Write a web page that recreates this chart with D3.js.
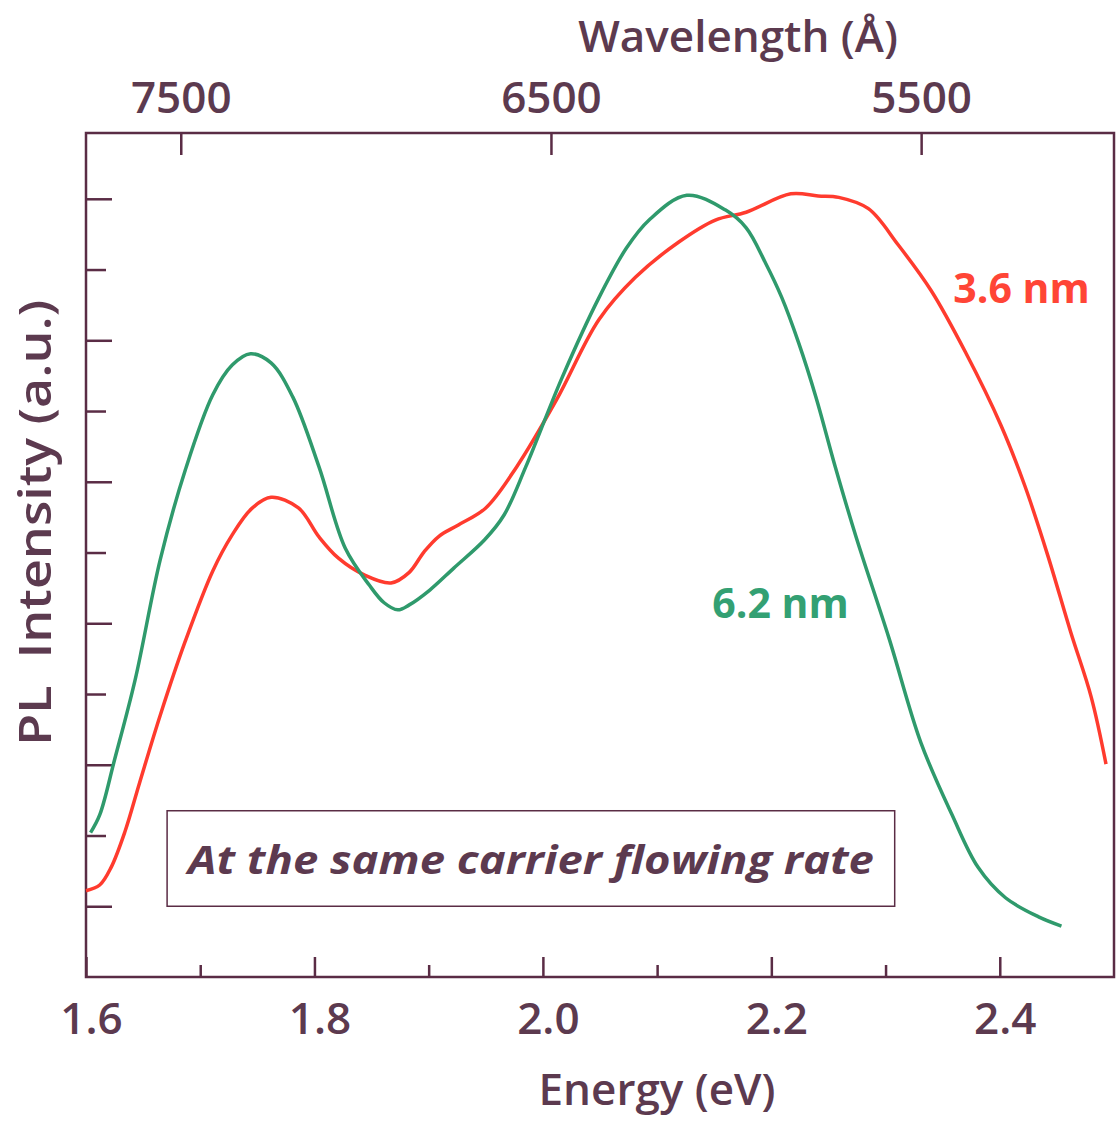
<!DOCTYPE html>
<html>
<head>
<meta charset="utf-8">
<script src="https://cdn.jsdelivr.net/npm/d3@7"></script>
<style>
  body { margin: 0; background: #fff; }
  text { font-family: "Open Sans", sans-serif; }
</style>
</head>
<body>
<div id="chart"></div>
<script>
// energy (eV) and PL intensity (a.u.)
let energy36 = [1.600, 1.612, 1.622, 1.634, 1.647, 1.665, 1.687, 1.711, 1.728, 1.745, 1.762, 1.786, 1.804, 1.821, 1.844, 1.867, 1.883, 1.896, 1.909, 1.926, 1.950, 1.977, 2.012, 2.049, 2.081, 2.119, 2.151, 2.178, 2.217, 2.241, 2.259, 2.285, 2.311, 2.340, 2.370, 2.401, 2.422, 2.442, 2.462, 2.480, 2.493];
let pl36 = [1.22, 1.30, 1.55, 2.05, 2.75, 3.70, 4.75, 5.74, 6.25, 6.62, 6.78, 6.63, 6.22, 5.92, 5.68, 5.57, 5.72, 6.01, 6.23, 6.39, 6.63, 7.21, 8.16, 9.29, 9.89, 10.39, 10.70, 10.81, 11.07, 11.04, 11.02, 10.86, 10.35, 9.70, 8.83, 7.80, 6.94, 5.96, 4.88, 3.96, 3.01];

let energy62 = [1.604, 1.612, 1.625, 1.643, 1.665, 1.687, 1.711, 1.728, 1.744, 1.762, 1.781, 1.804, 1.827, 1.848, 1.861, 1.873, 1.883, 1.901, 1.922, 1.949, 1.966, 1.985, 2.017, 2.049, 2.073, 2.093, 2.126, 2.160, 2.178, 2.195, 2.209, 2.224, 2.239, 2.256, 2.274, 2.303, 2.331, 2.358, 2.381, 2.405, 2.434, 2.454];
let pl62 = [2.04, 2.29, 3.07, 4.20, 5.90, 7.17, 8.23, 8.65, 8.81, 8.68, 8.20, 7.21, 6.06, 5.54, 5.29, 5.19, 5.26, 5.47, 5.78, 6.18, 6.53, 7.21, 8.48, 9.60, 10.30, 10.70, 11.05, 10.84, 10.59, 10.09, 9.61, 8.96, 8.20, 7.21, 6.23, 4.79, 3.31, 2.30, 1.55, 1.12, 0.85, 0.72];

let energyTicks = [1.6, 1.8, 2.0, 2.2, 2.4];
let energyMinor = [1.7, 1.9, 2.1, 2.3];
let waveTicks = [7500, 6500, 5500];
let plMajor = [1, 3, 5, 7, 9, 11];
let plMinor = [2, 4, 6, 8, 10];

let width = 1116;
let height = 1121;
let margin = {top: 133, left: 86, right: 2, bottom: 144};
let w = width - margin.left - margin.right;
let h = height - margin.top - margin.bottom;

let ink = "#5a2c45";
let textCol = "#5c3a4f";
let red = "#ff3b2e";
let green = "#2f9a6c";

let svg = d3.select("#chart")
  .append("svg")
  .attr("width", width)
  .attr("height", height)
  .append("g")
  .attr("transform", `translate(${margin.left},${margin.top})`);

let x = d3.scaleLinear().domain([1.6, 2.5]).range([0, w]);
// the top scale in the figure is drawn linear in wavelength
let xw = d3.scaleLinear().domain([7756, 4979]).range([0, w]);
let y = d3.scaleLinear().domain([0, 11.93]).range([h, 0]);

// frame
svg.append("rect")
  .attr("x", 0).attr("y", 0)
  .attr("width", w).attr("height", h)
  .attr("fill", "none")
  .attr("stroke", ink)
  .attr("stroke-width", 2.5);

// bottom axis: ticks point inward
let bottomAx = svg.append("g").attr("transform", `translate(0,${h})`);
bottomAx.call(d3.axisBottom(x).tickValues(energyTicks).tickSize(-20).tickFormat(d3.format(".1f")).tickPadding(26));
bottomAx.append("g").call(d3.axisBottom(x).tickValues(energyMinor).tickSize(-12).tickFormat(""));
bottomAx.selectAll(".domain").remove();
bottomAx.selectAll("line").attr("stroke", ink).attr("stroke-width", 2.5);
bottomAx.selectAll("text")
  .attr("fill", textCol)
  .attr("dx", 5)
  .style("font-size", "44px")
  .style("font-weight", 600);

// top axis (wavelength)
let topAx = svg.append("g");
topAx.call(d3.axisTop(xw).tickValues(waveTicks).tickSize(-22).tickFormat(d3.format("d")).tickPadding(20));
topAx.selectAll(".domain").remove();
topAx.selectAll("line").attr("stroke", ink).attr("stroke-width", 2.5);
topAx.selectAll("text")
  .attr("fill", textCol)
  .style("font-size", "44px")
  .style("font-weight", 600);

// left axis ticks, no labels
let leftAx = svg.append("g");
leftAx.call(d3.axisLeft(y).tickValues(plMajor).tickSize(-26).tickFormat(""));
leftAx.append("g").call(d3.axisLeft(y).tickValues(plMinor).tickSize(-20).tickFormat(""));
leftAx.selectAll(".domain").remove();
leftAx.selectAll("line").attr("stroke", ink).attr("stroke-width", 2.5);

// curves
let line = d3.line()
  .x(d => x(d[0]))
  .y(d => y(d[1]))
  .curve(d3.curveCatmullRom.alpha(0.5));

let series = [
  {name: "3.6 nm", color: red, pts: d3.zip(energy36, pl36)},
  {name: "6.2 nm", color: green, pts: d3.zip(energy62, pl62)}
];

svg.selectAll(".curve")
  .data(series)
  .enter().append("path")
  .attr("class", "curve")
  .attr("d", d => line(d.pts))
  .attr("fill", "none")
  .attr("stroke", d => d.color)
  .attr("stroke-width", 3.5)
  .attr("stroke-linejoin", "round");

// curve labels
svg.append("text")
  .attr("x", x(2.419)).attr("y", y(9.75))
  .attr("text-anchor", "middle")
  .attr("dominant-baseline", "central")
  .attr("fill", "#ff4536")
  .style("font-size", "41px").style("font-weight", 700)
  .text("3.6 nm");

svg.append("text")
  .attr("x", x(2.208)).attr("y", y(5.3))
  .attr("text-anchor", "middle")
  .attr("dominant-baseline", "central")
  .attr("fill", "#33a073")
  .style("font-size", "41px").style("font-weight", 700)
  .text("6.2 nm");

// note box
let boxX = x(1.671), boxY = y(2.35);
let boxW = x(2.308) - boxX, boxH = y(1.0) - boxY;
svg.append("rect")
  .attr("x", boxX).attr("y", boxY)
  .attr("width", boxW).attr("height", boxH)
  .attr("fill", "none")
  .attr("stroke", ink)
  .attr("stroke-width", 1.5);

svg.append("text")
  .attr("x", boxX + boxW / 2).attr("y", boxY + boxH / 2)
  .attr("text-anchor", "middle")
  .attr("dominant-baseline", "central")
  .attr("fill", textCol)
  .attr("textLength", 686)
  .attr("lengthAdjust", "spacingAndGlyphs")
  .style("font-size", "40px").style("font-weight", 700).style("font-style", "italic")
  .text("At the same carrier flowing rate");

// axis titles
svg.append("text")
  .attr("x", 571).attr("y", h + 128)
  .attr("text-anchor", "middle")
  .attr("fill", textCol)
  .style("font-size", "44px").style("font-weight", 600)
  .text("Energy (eV)");

svg.append("text")
  .attr("x", 652).attr("y", -81)
  .attr("text-anchor", "middle")
  .attr("fill", textCol)
  .style("font-size", "44px").style("font-weight", 600)
  .text("Wavelength (Å)");

svg.append("text")
  .attr("transform", `translate(-53,${y(6.42)}) rotate(-90)`)
  .attr("text-anchor", "middle")
  .attr("dominant-baseline", "central")
  .attr("fill", textCol)
  .attr("textLength", 446)
  .attr("lengthAdjust", "spacingAndGlyphs")
  .style("font-size", "45px").style("font-weight", 600)
  .style("white-space", "pre")
  .text("PL  Intensity (a.u.)");
</script>
</body>
</html>
